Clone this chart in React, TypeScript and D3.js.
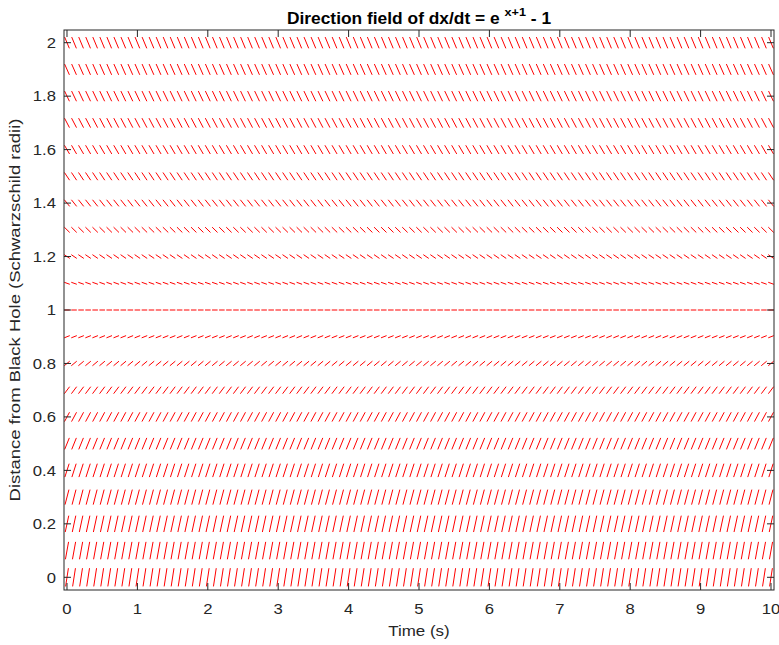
import React from "react";
import * as d3 from "d3";

// Grid of times (s) where direction segments are drawn
const TIMES = [
  0, 0.1, 0.2, 0.3, 0.4, 0.5, 0.6, 0.7, 0.8, 0.9,
  1, 1.1, 1.2, 1.3, 1.4, 1.5, 1.6, 1.7, 1.8, 1.9,
  2, 2.1, 2.2, 2.3, 2.4, 2.5, 2.6, 2.7, 2.8, 2.9,
  3, 3.1, 3.2, 3.3, 3.4, 3.5, 3.6, 3.7, 3.8, 3.9,
  4, 4.1, 4.2, 4.3, 4.4, 4.5, 4.6, 4.7, 4.8, 4.9,
  5, 5.1, 5.2, 5.3, 5.4, 5.5, 5.6, 5.7, 5.8, 5.9,
  6, 6.1, 6.2, 6.3, 6.4, 6.5, 6.6, 6.7, 6.8, 6.9,
  7, 7.1, 7.2, 7.3, 7.4, 7.5, 7.6, 7.7, 7.8, 7.9,
  8, 8.1, 8.2, 8.3, 8.4, 8.5, 8.6, 8.7, 8.8, 8.9,
  9, 9.1, 9.2, 9.3, 9.4, 9.5, 9.6, 9.7, 9.8, 9.9,
  10,
];

// Distances (rows) and the slope read for each row
const DISTANCES = [
  0, 0.1, 0.2, 0.3, 0.4, 0.5, 0.6, 0.7, 0.8, 0.9, 1,
  1.1, 1.2, 1.3, 1.4, 1.5, 1.6, 1.7, 1.8, 1.9, 2,
];
const SLOPES = [
  1.718, 1.46, 1.226, 1.014, 0.822, 0.649, 0.492, 0.35, 0.221, 0.105, 0,
  -0.095, -0.181, -0.259, -0.33, -0.393, -0.451, -0.503, -0.551, -0.593, -0.632,
];

const X_TICKS = [0, 1, 2, 3, 4, 5, 6, 7, 8, 9, 10];
const X_TICK_LABELS = ["0", "1", "2", "3", "4", "5", "6", "7", "8", "9", "10"];
const Y_TICKS = [0, 0.2, 0.4, 0.6, 0.8, 1, 1.2, 1.4, 1.6, 1.8, 2];
const Y_TICK_LABELS = ["0", "0.2", "0.4", "0.6", "0.8", "1", "1.2", "1.4", "1.6", "1.8", "2"];

const W = 779;
const H = 645;
const LEFT = 64;
const RIGHT = 774;
const TOP = 30;
const BOTTOM = 590;
const SEG_LEN = 0.079;
const AXIS_COLOR = "#262626";
const FONT = "'Liberation Sans', Arial, Helvetica, sans-serif";
const TICK_FS = 14.5;
const LABEL_FS = 15.4;
const TITLE_FS = 15.8;
const SX = 1.15;

export default function App() {
  const x = d3.scaleLinear().domain([-0.0426, 10.0426]).range([LEFT, RIGHT]);
  const y = d3.scaleLinear().domain([-0.0475, 2.0475]).range([BOTTOM, TOP]);

  const segments: { x1: number; y1: number; x2: number; y2: number; key: string }[] = [];
  DISTANCES.forEach((d, i) => {
    const s = SLOPES[i];
    const n = Math.sqrt(1 + s * s);
    const u = SEG_LEN / n;
    const v = (SEG_LEN * s) / n;
    TIMES.forEach((t, j) => {
      segments.push({
        key: `${i}-${j}`,
        x1: x(t - u / 2),
        y1: y(d - v / 2),
        x2: x(t + u / 2),
        y2: y(d + v / 2),
      });
    });
  });

  const tickLen = 7;
  const cx = (LEFT + RIGHT) / 2;

  return (
    <svg
      width={W}
      height={H}
      style={{ position: "absolute", left: 0, top: 0, background: "#fff", fontFamily: FONT }}
    >
      <rect x={0} y={0} width={W} height={H} fill="#fff" />
      <g>
        {segments.map((sg) => (
          <line
            key={sg.key}
            x1={sg.x1}
            y1={sg.y1}
            x2={sg.x2}
            y2={sg.y2}
            stroke="#ff0000"
            strokeWidth={1}
          />
        ))}
      </g>
      {/* box */}
      <rect
        x={LEFT}
        y={TOP}
        width={RIGHT - LEFT}
        height={BOTTOM - TOP}
        fill="none"
        stroke={AXIS_COLOR}
        strokeWidth={1}
      />
      {/* x ticks */}
      {X_TICKS.map((t, i) => (
        <g key={`xt${i}`}>
          <line x1={x(t)} x2={x(t)} y1={BOTTOM} y2={BOTTOM - tickLen} stroke={AXIS_COLOR} />
          <line x1={x(t)} x2={x(t)} y1={TOP} y2={TOP + tickLen} stroke={AXIS_COLOR} />
          <text
            transform={`translate(${x(t)},614) scale(${SX},1)`}
            textAnchor="middle"
            fontSize={TICK_FS}
            fill={AXIS_COLOR}
          >
            {X_TICK_LABELS[i]}
          </text>
        </g>
      ))}
      {/* y ticks */}
      {Y_TICKS.map((t, i) => (
        <g key={`yt${i}`}>
          <line x1={LEFT} x2={LEFT + tickLen} y1={y(t)} y2={y(t)} stroke={AXIS_COLOR} />
          <line x1={RIGHT} x2={RIGHT - tickLen} y1={y(t)} y2={y(t)} stroke={AXIS_COLOR} />
          <text
            transform={`translate(56,${y(t) + 5.2}) scale(${SX},1)`}
            textAnchor="end"
            fontSize={TICK_FS}
            fill={AXIS_COLOR}
          >
            {Y_TICK_LABELS[i]}
          </text>
        </g>
      ))}
      {/* axis labels */}
      <text
        transform={`translate(${cx},636) scale(1.1,1)`}
        textAnchor="middle"
        fontSize={LABEL_FS}
        fill={AXIS_COLOR}
      >
        Time (s)
      </text>
      <text
        transform={`translate(20, ${(TOP + BOTTOM) / 2}) rotate(-90) scale(1.2,1)`}
        textAnchor="middle"
        fontSize={LABEL_FS}
        fill={AXIS_COLOR}
      >
        Distance from Black Hole (Schwarzschild radii)
      </text>
      {/* title */}
      <text
        transform={`translate(${cx},24) scale(1.1,1)`}
        textAnchor="middle"
        fontSize={TITLE_FS}
        fontWeight="bold"
        fill="#000"
      >
        <tspan>Direction field of dx/dt = e </tspan>
        <tspan fontSize={11.5} dy={-8}>x+1</tspan>
        <tspan dy={8}> - 1</tspan>
      </text>
    </svg>
  );
}
